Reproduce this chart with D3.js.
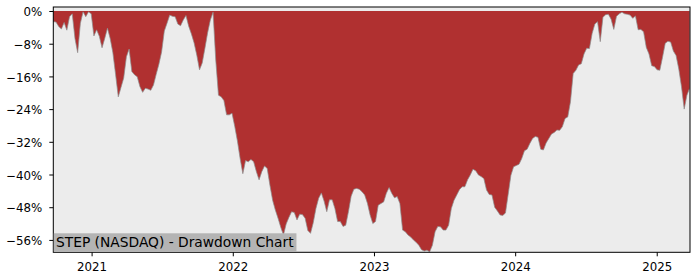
<!DOCTYPE html>
<html>
<head>
<meta charset="utf-8">
<title>STEP (NASDAQ) - Drawdown Chart</title>
<style>
  body { margin: 0; background: #fff; }
  text { font-family: "DejaVu Sans", sans-serif; fill: #000; }
</style>
<script src="https://cdn.jsdelivr.net/npm/d3@7"></script>
</head>
<body>
<script>
// weekly samples
const dates = [
  "2020-09-24","2020-10-01","2020-10-08","2020-10-15","2020-10-22","2020-10-29","2020-11-05","2020-11-12","2020-11-19","2020-11-26",
  "2020-12-03","2020-12-10","2020-12-17","2020-12-24","2020-12-31",
  "2021-01-07","2021-01-14","2021-01-21","2021-01-28","2021-02-04","2021-02-11","2021-02-18","2021-02-25","2021-03-04","2021-03-11",
  "2021-03-18","2021-03-25","2021-04-01","2021-04-08","2021-04-15","2021-04-22","2021-04-29","2021-05-06","2021-05-13","2021-05-20",
  "2021-05-27","2021-06-03","2021-06-10","2021-06-17","2021-06-24","2021-07-01","2021-07-08","2021-07-15","2021-07-22","2021-07-29",
  "2021-08-05","2021-08-12","2021-08-19","2021-08-26","2021-09-02","2021-09-09","2021-09-16","2021-09-23","2021-09-30","2021-10-07",
  "2021-10-14","2021-10-21","2021-10-28","2021-11-04","2021-11-11","2021-11-18","2021-11-25","2021-12-02","2021-12-09","2021-12-16",
  "2021-12-23","2021-12-30",
  "2022-01-06","2022-01-13","2022-01-20","2022-01-27","2022-02-03","2022-02-10","2022-02-17","2022-02-24","2022-03-03","2022-03-10",
  "2022-03-17","2022-03-24","2022-03-31","2022-04-07","2022-04-14","2022-04-21","2022-04-28","2022-05-05","2022-05-12","2022-05-19",
  "2022-05-26","2022-06-02","2022-06-09","2022-06-16","2022-06-23","2022-06-30","2022-07-07","2022-07-14","2022-07-21","2022-07-28",
  "2022-08-04","2022-08-11","2022-08-18","2022-08-25","2022-09-01","2022-09-08","2022-09-15","2022-09-22","2022-09-29","2022-10-06",
  "2022-10-13","2022-10-20","2022-10-27","2022-11-03","2022-11-10","2022-11-17","2022-11-24","2022-12-01","2022-12-08","2022-12-15",
  "2022-12-22","2022-12-29",
  "2023-01-05","2023-01-12","2023-01-19","2023-01-26","2023-02-02","2023-02-09","2023-02-16","2023-02-23","2023-03-02","2023-03-09",
  "2023-03-16","2023-03-23","2023-03-30","2023-04-06","2023-04-13","2023-04-20","2023-04-27","2023-05-04","2023-05-11","2023-05-18",
  "2023-05-25","2023-06-01","2023-06-08","2023-06-15","2023-06-22","2023-06-29","2023-07-06","2023-07-13","2023-07-20","2023-07-27",
  "2023-08-03","2023-08-10","2023-08-17","2023-08-24","2023-08-31","2023-09-07","2023-09-14","2023-09-21","2023-09-28","2023-10-05",
  "2023-10-12","2023-10-19","2023-10-26","2023-11-02","2023-11-09","2023-11-16","2023-11-23","2023-11-30","2023-12-07","2023-12-14",
  "2023-12-21","2023-12-28",
  "2024-01-04","2024-01-11","2024-01-18","2024-01-25","2024-02-01","2024-02-08","2024-02-15","2024-02-22","2024-02-29","2024-03-07",
  "2024-03-14","2024-03-21","2024-03-28","2024-04-04","2024-04-11","2024-04-18","2024-04-25","2024-05-02","2024-05-09","2024-05-16",
  "2024-05-23","2024-05-30","2024-06-06","2024-06-13","2024-06-20","2024-06-27","2024-07-04","2024-07-11","2024-07-18","2024-07-25",
  "2024-08-01","2024-08-08","2024-08-15","2024-08-22","2024-08-29","2024-09-05","2024-09-12","2024-09-19","2024-09-26","2024-10-03",
  "2024-10-10","2024-10-17","2024-10-24","2024-10-31","2024-11-07","2024-11-14","2024-11-21","2024-11-28","2024-12-05","2024-12-12",
  "2024-12-19","2024-12-26",
  "2025-01-02","2025-01-09","2025-01-16","2025-01-23","2025-01-30","2025-02-06","2025-02-13","2025-02-20","2025-02-27","2025-03-06",
  "2025-03-13","2025-03-20","2025-03-27"
];

// drawdown in percent, same order as dates
const drawdown = [
  -2.6,-2.7,-3.8,-4.4,-2.8,-4.7,-1.4,-0.7,-6.7,-10.2,
  -3.0,-0.2,-1.4,-0.2,-0.7,
  -6.1,-4.6,-6.2,-9.0,-6.7,-4.2,-6.7,-10.2,-15.5,-21.0,
  -18.7,-16.4,-11.2,-9.3,-14.8,-15.6,-16.1,-18.5,-19.9,-18.9,
  -19.1,-19.4,-18.1,-15.5,-13.0,-10.0,-4.9,-3.0,-1.0,-1.3,
  -1.4,-3.2,-3.6,-2.2,-1.1,-3.7,-5.6,-7.8,-10.8,-14.4,
  -12.7,-9.1,-5.3,-2.2,-0.3,-12.0,-20.6,-21.0,-21.9,-25.4,
  -25.4,-25.0,
  -28.2,-31.8,-36.1,-39.8,-36.6,-36.9,-36.3,-36.9,-39.3,-41.3,
  -39.3,-37.9,-38.5,-42.6,-46.3,-48.7,-50.7,-52.9,-54.8,-52.1,
  -50.5,-49.1,-49.3,-51.1,-49.7,-49.8,-50.7,-53.7,-54.4,-51.8,
  -48.3,-45.8,-44.5,-46.5,-49.1,-46.2,-46.2,-48.3,-51.5,-51.5,
  -52.7,-52.4,-49.1,-45.3,-43.6,-43.4,-43.6,-44.2,-45.0,-47.0,
  -49.9,-52.0,
  -51.5,-47.5,-47.1,-46.7,-44.6,-43.2,-44.6,-45.7,-45.4,-47.1,
  -53.6,-54.0,-54.8,-55.3,-56.0,-56.6,-57.3,-58.4,-58.7,-58.5,
  -58.9,-57.3,-54.0,-52.7,-52.8,-53.6,-53.6,-52.4,-48.3,-46.3,
  -45.0,-43.7,-43.0,-43.0,-41.3,-40.1,-38.7,-39.1,-40.1,-40.5,
  -41.0,-43.8,-44.9,-45.0,-48.0,-48.9,-49.9,-50.0,-49.4,-44.8,
  -40.2,-38.1,
  -37.8,-37.5,-36.1,-34.2,-33.8,-32.4,-31.2,-30.7,-30.9,-33.8,
  -34.0,-32.3,-31.2,-30.1,-29.7,-29.1,-29.2,-28.3,-26.3,-25.9,
  -22.2,-15.3,-14.5,-13.2,-12.9,-10.5,-9.1,-9.2,-5.5,-3.2,
  -2.6,-7.5,-1.5,-0.9,-0.8,-2.0,-4.5,-1.3,-0.7,-0.3,
  -0.7,-0.8,-1.0,-1.8,-1.2,-4.6,-4.5,-5.1,-8.9,-10.5,
  -13.4,-13.6,
  -14.4,-14.5,-11.3,-7.9,-7.4,-7.6,-9.8,-10.9,-14.2,-18.5,
  -24.0,-20.6,-18.9
];

const yTicks = [0, -8, -16, -24, -32, -40, -48, -56];
const xTickYears = ["2021", "2022", "2023", "2024", "2025"];
const chartTitle = "STEP (NASDAQ) - Drawdown Chart";

const width = 700, height = 280;
const plotLeft = 53.3, plotRight = 690, plotTop = 7, plotBottom = 252.3;

const parse = d3.timeParse("%Y-%m-%d");
const data = dates.map((d, i) => ({ date: parse(d), value: drawdown[i] }));

const svg = d3.select("body").append("svg")
  .attr("width", width)
  .attr("height", height);

const x = d3.scaleTime()
  .domain([parse("2020-09-24"), parse("2025-03-28")])
  .range([plotLeft, plotRight]);

const y = d3.scaleLinear()
  .domain([-59.03, 0.98])
  .range([plotBottom, plotTop]);

// plot background
svg.append("rect")
  .attr("x", plotLeft).attr("y", plotTop)
  .attr("width", plotRight - plotLeft).attr("height", plotBottom - plotTop)
  .attr("fill", "#ececec");

const area = d3.area()
  .x(d => x(d.date))
  .y0(y(0))
  .y1(d => y(d.value));

svg.append("path")
  .datum(data)
  .attr("d", area)
  .attr("fill", "#b03030");

svg.append("path")
  .datum(data)
  .attr("d", d3.line().x(d => x(d.date)).y(d => y(d.value)))
  .attr("fill", "none")
  .attr("stroke", "#8c8c8c")
  .attr("stroke-width", 0.7);

// axes
const fmt = d => (d < 0 ? "\u2212" : "") + Math.abs(d) + "%";

const yAxis = svg.append("g")
  .attr("transform", `translate(${plotLeft},0)`)
  .call(d3.axisLeft(y).tickValues(yTicks).tickFormat(fmt).tickSize(4).tickPadding(7));

const xAxis = svg.append("g")
  .attr("transform", `translate(0,${plotBottom})`)
  .call(d3.axisBottom(x)
    .tickValues(xTickYears.map(yr => parse(yr + "-01-01")))
    .tickFormat(d3.timeFormat("%Y"))
    .tickSize(4).tickPadding(6.5));

[yAxis, xAxis].forEach(g => {
  g.select(".domain").remove();
  g.selectAll("line").attr("stroke", "#000");
  g.selectAll("text")
    .attr("fill", "#000")
    .style("font-family", "'DejaVu Sans', sans-serif")
    .style("font-size", "11.8px");
});
yAxis.selectAll("text").attr("dy", "0.4em");

// frame
svg.append("rect")
  .attr("x", plotLeft).attr("y", plotTop)
  .attr("width", plotRight - plotLeft).attr("height", plotBottom - plotTop)
  .attr("fill", "none")
  .attr("stroke", "#000")
  .attr("stroke-width", 1);

// title label with grey box
const label = svg.append("g");
const labelBox = label.append("rect").attr("fill", "#b4b4b4");
const labelText = label.append("text")
  .attr("x", plotLeft + 2.7)
  .attr("y", 247.3)
  .style("font-size", "13.8px")
  .attr("fill", "#1a1a1a")
  .text(chartTitle);
const tw = labelText.node().getComputedTextLength();
labelBox
  .attr("x", plotLeft + 0.5)
  .attr("y", 233.3)
  .attr("width", tw + 5)
  .attr("height", plotBottom - 233.3 - 0.5);
</script>
</body>
</html>
